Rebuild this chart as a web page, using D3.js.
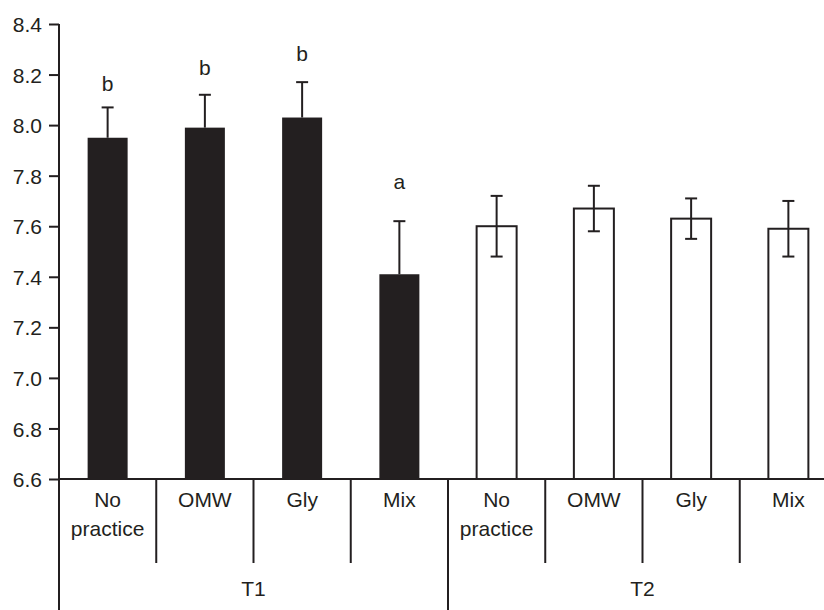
<!DOCTYPE html>
<html>
<head>
<meta charset="utf-8">
<script src="https://cdn.jsdelivr.net/npm/d3@7"></script>
<style>
  body { margin: 0; background: #fff; }
  svg { display: block; font-family: "Liberation Sans", Arial, sans-serif; }
</style>
</head>
<body>
<svg id="chart" width="824" height="610"></svg>
<script>
var INK = "#231f20";
var FONT = "21px";

// data
var groups = ["T1", "T1", "T1", "T1", "T2", "T2", "T2", "T2"];
var treatments = ["No practice", "OMW", "Gly", "Mix", "No practice", "OMW", "Gly", "Mix"];
var means = [7.95, 7.99, 8.03, 7.41, 7.60, 7.67, 7.63, 7.59];
var errors = [0.12, 0.13, 0.14, 0.21, 0.12, 0.09, 0.08, 0.11];
var letters = ["b", "b", "b", "a", "", "", "", ""];
var letterAt = [8.135, 8.197, 8.252, 7.746, null, null, null, null];
var yTicks = [6.6, 6.8, 7.0, 7.2, 7.4, 7.6, 7.8, 8.0, 8.2, 8.4];

var svg = d3.select("#chart");

var axisX = 59, baseY = 479, topY = 24;

var x = d3.scaleBand()
  .domain(d3.range(means.length))
  .range([axisX, axisX + 97.25 * means.length])
  .padding(0);

var y = d3.scaleLinear()
  .domain([6.6, 8.4])
  .range([baseY, topY]);

var BAR_W = 40;
var CAP = 12;

//y axis
var yAxis = d3.axisLeft(y)
  .tickValues(yTicks)
  .tickFormat(d3.format(".1f"))
  .tickSize(10)
  .tickPadding(7);

var gy = svg.append("g")
  .attr("transform", "translate(" + axisX + ",0)")
  .call(yAxis);
gy.select(".domain").remove();
gy.selectAll(".tick line").attr("stroke", INK).attr("stroke-width", 2);
gy.selectAll(".tick text")
  .attr("fill", INK)
  .style("font-size", FONT)
  .attr("dy", "0.36em");

// bars
svg.selectAll("rect.bar")
  .data(means)
  .enter().append("rect")
  .attr("class", "bar")
  .attr("x", function(d, i) { return x(i) + (x.bandwidth() - BAR_W) / 2; })
  .attr("y", function(d) { return y(d); })
  .attr("width", BAR_W)
  .attr("height", function(d) { return baseY - y(d); })
  .attr("fill", function(d, i) { return groups[i] === "T1" ? INK : "#fff"; })
  .attr("stroke", INK)
  .attr("stroke-width", function(d, i) { return groups[i] === "T1" ? 0 : 2; });

// error bars: T1 only upward, T2 both ways
var eb = svg.selectAll("g.err")
  .data(means)
  .enter().append("g")
  .attr("class", "err")
  .attr("stroke", INK)
  .attr("stroke-width", 2);

eb.each(function(d, i) {
  var g = d3.select(this);
  var cx = x(i) + x.bandwidth() / 2;
  var hi = y(d + errors[i]);
  var lo = groups[i] === "T1" ? y(d) : y(d - errors[i]);
  g.append("line").attr("x1", cx).attr("x2", cx).attr("y1", lo).attr("y2", hi);
  g.append("line").attr("x1", cx - CAP / 2).attr("x2", cx + CAP / 2).attr("y1", hi).attr("y2", hi);
  if (groups[i] === "T2") {
    g.append("line").attr("x1", cx - CAP / 2).attr("x2", cx + CAP / 2).attr("y1", lo).attr("y2", lo);
  }
});

// significance letters
svg.selectAll("text.letter")
  .data(letters)
  .enter().append("text")
  .attr("class", "letter")
  .filter(function(d) { return d !== ""; })
  .attr("x", function(d, i) { return x(i) + x.bandwidth() / 2; })
  .attr("y", function(d, i) { return y(letterAt[i]); })
  .attr("text-anchor", "middle")
  .attr("fill", INK)
  .style("font-size", FONT)
  .text(function(d) { return d; });

// axis lines
svg.append("line")
  .attr("x1", axisX).attr("x2", axisX)
  .attr("y1", topY).attr("y2", 610)
  .attr("stroke", INK).attr("stroke-width", 2);
svg.append("line")
  .attr("x1", axisX).attr("x2", 824)
  .attr("y1", baseY).attr("y2", baseY)
  .attr("stroke", INK).attr("stroke-width", 2);

// category dividers
d3.range(1, means.length).forEach(function(i) {
  var longOne = groups[i] !== groups[i - 1];
  svg.append("line")
    .attr("x1", x(i)).attr("x2", x(i))
    .attr("y1", baseY).attr("y2", longOne ? 610 : 563)
    .attr("stroke", INK).attr("stroke-width", 2);
});

// treatment labels
treatments.forEach(function(t, i) {
  var words = t === "No practice" ? ["No", "practice"] : [t];
  var txt = svg.append("text")
    .attr("text-anchor", "middle")
    .attr("fill", INK)
    .style("font-size", FONT);
  words.forEach(function(w, k) {
    txt.append("tspan")
      .attr("x", x(i) + x.bandwidth() / 2)
      .attr("y", 507 + k * 29)
      .text(w);
  });
});

// group labels
var groupNames = ["T1", "T2"];
groupNames.forEach(function(g) {
  var idx = d3.range(groups.length).filter(function(i) { return groups[i] === g; });
  var left = x(idx[0]);
  var right = x(idx[idx.length - 1]) + x.bandwidth();
  svg.append("text")
    .attr("x", (left + right) / 2)
    .attr("y", 596)
    .attr("text-anchor", "middle")
    .attr("fill", INK)
    .style("font-size", FONT)
    .text(g);
});
</script>
</body>
</html>
